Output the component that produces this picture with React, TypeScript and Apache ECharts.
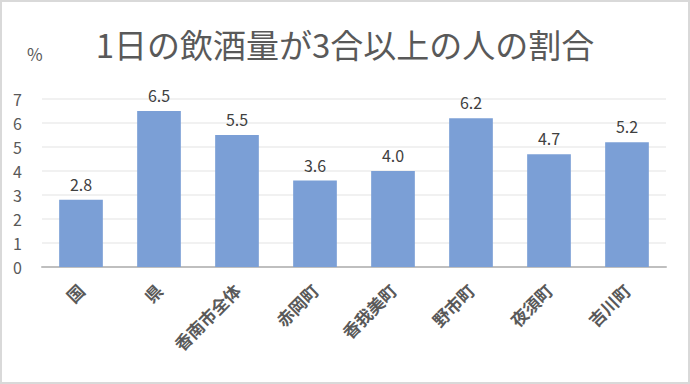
import React, { useEffect, useRef } from "react";
import * as echarts from "echarts";

const categories = ["国", "県", "香南市全体", "赤岡町", "香我美町", "野市町", "夜須町", "吉川町"];
const values = [2.8, 6.5, 5.5, 3.6, 4.0, 6.2, 4.7, 5.2];
const titleText = "1日の飲酒量が3合以上の人の割合";
const unitText = "%";

export default function App() {
  const ref = useRef<HTMLDivElement>(null);
  useEffect(() => {
    document.body.style.margin = "0";
    const chart = echarts.init(ref.current!, null, { renderer: "svg" });
    const font = "'Noto Sans CJK JP', 'Noto Sans', sans-serif";
    chart.setOption({
      animation: false,
      textStyle: { fontFamily: font },
      title: {
        text: titleText,
        left: "center",
        top: 22,
        textStyle: { fontSize: 33, fontWeight: "normal", color: "#595959", fontFamily: font },
      },
      graphic: [
        {
          type: "text",
          left: 27,
          top: 45,
          style: { text: unitText, fontSize: 17, fill: "#595959", fontFamily: font },
        },
      ],
      grid: { left: 42, right: 24, top: 99, bottom: 117, containLabel: false },
      xAxis: {
        type: "category",
        data: categories,
        axisLine: { lineStyle: { color: "#bfbfbf", width: 2 } },
        axisTick: { show: false },
        axisLabel: {
          rotate: 45,
          fontSize: 17,
          color: "#595959",
          fontWeight: "bold",
          margin: 20,
          interval: 0,
        },
      },
      yAxis: {
        type: "value",
        min: 0,
        max: 7,
        interval: 1,
        axisLine: { show: false },
        axisTick: { show: false },
        splitLine: { lineStyle: { color: "#ececec", width: 1.5 } },
        axisLabel: { fontSize: 16, color: "#595959", margin: 20, formatter: (v: number) => String(v) },
      },
      series: [
        {
          type: "bar",
          data: values,
          barWidth: "56%",
          itemStyle: { color: "#7b9fd6" },
          label: {
            show: true,
            position: "top",
            distance: 8,
            fontSize: 16,
            color: "#404040",
            formatter: (p: any) => Number(p.value).toFixed(1),
          },
        },
      ],
    });
    return () => chart.dispose();
  }, []);
  return (
    <div
      style={{
        width: 690,
        height: 384,
        boxSizing: "border-box",
        border: "2px solid #d9d9d9",
        position: "relative",
        overflow: "hidden",
      }}
    >
      <div ref={ref} style={{ position: "absolute", left: -2, top: -2, width: 690, height: 384 }} />
    </div>
  );
}
